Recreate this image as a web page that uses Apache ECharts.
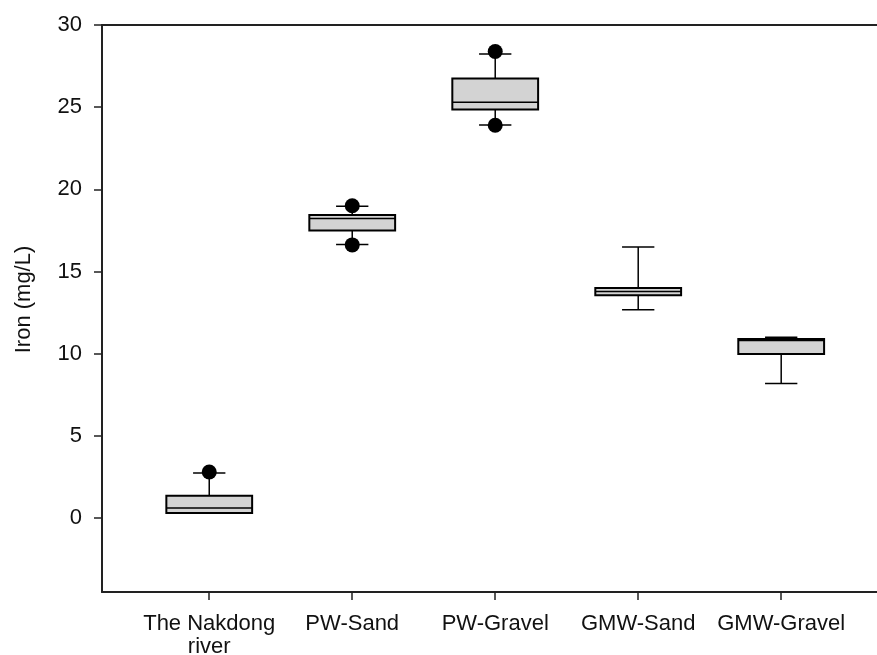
<!DOCTYPE html>
<html>
<head>
<meta charset="utf-8">
<script src="https://cdn.jsdelivr.net/npm/echarts@6/dist/echarts.min.js"></script>
<style>
  html, body { margin: 0; padding: 0; background: #fff; }
  #chart { width: 877px; height: 655px; }
</style>
</head>
<body>
<div id="chart"></div>
<script>
// groups on the x axis (positions 1..5)
const categories = ['The Nakdong\nriver', 'PW-Sand', 'PW-Gravel', 'GMW-Sand', 'GMW-Gravel'];
// box statistics (mg/L)
const lowWhisker = [0.30, 16.64, 23.92, 12.68, 8.18];
const q1 = [0.30, 17.49, 24.86, 13.55, 9.98];
const median = [0.61, 18.22, 25.30, 13.78, 10.80];
const q3 = [1.36, 18.44, 26.74, 14.00, 10.90];
const highWhisker = [2.74, 18.97, 28.24, 16.49, 11.00];
// outlier points: group position and value
const outlierGroup = [1, 2, 2, 3, 3];
const outlierValue = [2.80, 19.00, 16.62, 28.39, 23.90];
const yTicks = [0, 5, 10, 15, 20, 25, 30];
const xTicks = [1, 2, 3, 4, 5];

const font = 'Liberation Sans, Arial, sans-serif';
const ink = '#111';

const boxData = categories.map((c, i) => [i + 1, lowWhisker[i], q1[i], median[i], q3[i], highWhisker[i]]);
const outlierData = outlierGroup.map((g, i) => [g, outlierValue[i]]);

// draws one box with whiskers and short caps
const renderBox = function (params, api) {
    const x = api.value(0);
    const band = api.size([1, 0])[0];
    const half = band * 0.3;
    const cap = band * 0.113;
    const pLo = api.coord([x, api.value(1)]);
    const pQ1 = api.coord([x, api.value(2)]);
    const pMed = api.coord([x, api.value(3)]);
    const pQ3 = api.coord([x, api.value(4)]);
    const pHi = api.coord([x, api.value(5)]);
    const line = { stroke: '#000', lineWidth: 1.5 };
    return {
        type: 'group',
        children: [
            { type: 'line', shape: { x1: pHi[0], y1: pHi[1], x2: pQ3[0], y2: pQ3[1] }, style: line },
            { type: 'line', shape: { x1: pQ1[0], y1: pQ1[1], x2: pLo[0], y2: pLo[1] }, style: line },
            { type: 'line', shape: { x1: pHi[0] - cap, y1: pHi[1], x2: pHi[0] + cap, y2: pHi[1] }, style: line },
            { type: 'line', shape: { x1: pLo[0] - cap, y1: pLo[1], x2: pLo[0] + cap, y2: pLo[1] }, style: line },
            {
                type: 'rect',
                shape: { x: pQ3[0] - half, y: pQ3[1], width: half * 2, height: pQ1[1] - pQ3[1] },
                style: { fill: '#d3d3d3', stroke: '#000', lineWidth: 2 }
            },
            { type: 'line', shape: { x1: pMed[0] - half, y1: pMed[1], x2: pMed[0] + half, y2: pMed[1] }, style: line }
        ]
    };
};

const chart = echarts.init(document.getElementById('chart'));
const option = {
    animation: false,
    grid: { left: 102, right: 0, top: 25, bottom: 63, outerBoundsMode: 'none' },
    xAxis: [
        {
            type: 'value',
            min: 0.25,
            max: 5.67,
            splitLine: { show: false },
            axisLine: { show: true, onZero: false, lineStyle: { color: '#222', width: 2 } },
            axisTick: { show: true, length: 8, customValues: xTicks, lineStyle: { color: '#222', width: 1.5 } },
            axisLabel: {
                customValues: xTicks,
                formatter: (v) => categories[Math.round(v) - 1] || '',
                margin: 20,
                fontFamily: font,
                fontSize: 22,
                lineHeight: 23,
                color: ink
            }
        },
        {
            type: 'value',
            position: 'top',
            min: 0.25,
            max: 5.67,
            splitLine: { show: false },
            axisLine: { show: true, onZero: false, lineStyle: { color: '#222', width: 2 } },
            axisTick: { show: false },
            axisLabel: { show: false }
        }
    ],
    yAxis: {
        type: 'value',
        min: -4.5,
        max: 30,
        name: 'Iron (mg/L)',
        nameLocation: 'middle',
        nameGap: 67,
        nameTextStyle: { fontFamily: font, fontSize: 22, color: ink, padding: [0, 0, 0, 18] },
        splitLine: { show: false },
        axisLine: { show: true, onZero: false, lineStyle: { color: '#222', width: 2 } },
        axisTick: { show: true, length: 8, customValues: yTicks, lineStyle: { color: '#222', width: 1.5 } },
        axisLabel: {
            customValues: yTicks,
            margin: 20,
            fontFamily: font,
            fontSize: 22,
            color: ink
        }
    },
    series: [
        {
            type: 'custom',
            renderItem: renderBox,
            data: boxData,
            encode: { x: 0, y: [1, 2, 3, 4, 5] },
            z: 2
        },
        {
            type: 'scatter',
            data: outlierData,
            symbol: 'circle',
            symbolSize: 15,
            itemStyle: { color: '#000', opacity: 1 },
            z: 3
        }
    ]
};
chart.setOption(option);
</script>
</body>
</html>
